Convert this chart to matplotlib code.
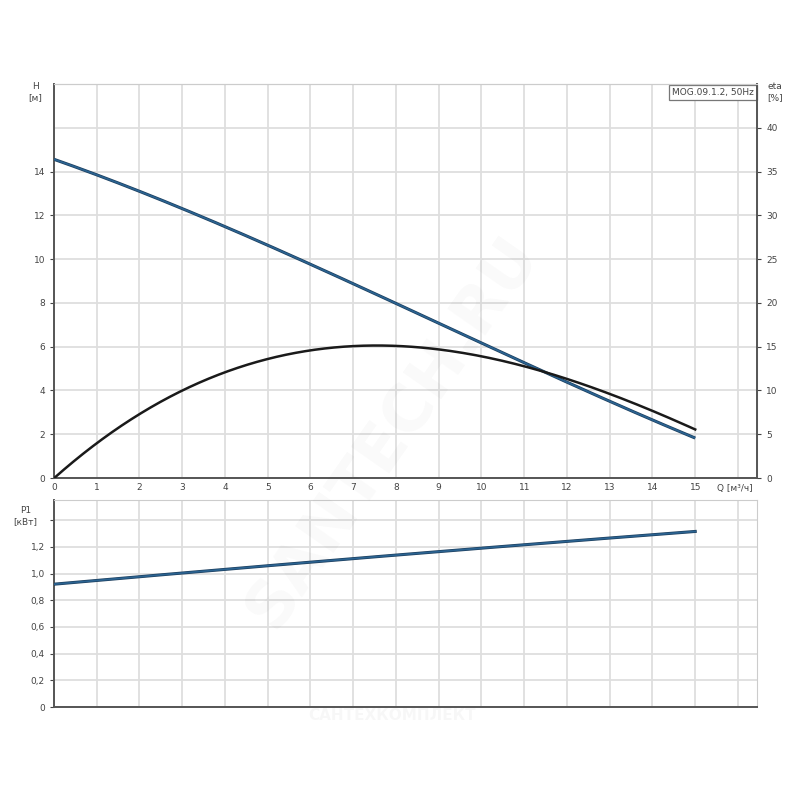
import matplotlib.pyplot as plt
import numpy as np

# Q, m3/h
q = [0, 1, 2, 3, 4, 5, 6, 7, 8, 9, 10, 11, 12, 13, 14, 15]
# head H, m
head = [14.48, 13.93, 13.13, 12.32, 11.48, 10.6, 9.77, 8.88, 7.97, 7.05, 6.12, 5.22, 4.42, 3.6, 2.7, 1.74]
# efficiency, %
eta = [0, 4.0, 7.2, 10.0, 12.0, 13.6, 14.6, 15.3, 15.25, 14.5, 13.6, 12.6, 11.6, 9.75, 7.6, 5.5]
# P1, kW
p1 = [0.927, 0.95, 0.975, 1.0, 1.025, 1.052, 1.08, 1.11, 1.145, 1.17, 1.195, 1.218, 1.24, 1.265, 1.29, 1.31]

h_ticks = [0, 2, 4, 6, 8, 10, 12, 14]
eta_ticks = [0, 5, 10, 15, 20, 25, 30, 35, 40]
p_ticks = [0, 0.2, 0.4, 0.6, 0.8, 1.0, 1.2, 1.4]
p_labels = ["0", "0,2", "0,4", "0,6", "0,8", "1,0", "1,2", ""]

blue = "#2b6391"
grid_c = "#dedede"
txt_c = "#444444"
spine_c = "#555555"

fig = plt.figure(figsize=(8, 8), dpi=100)
ax = fig.add_axes([0.0675, 0.4025, 0.879, 0.4925])
ax2 = ax.twinx()
axp = fig.add_axes([0.0675, 0.116, 0.879, 0.259])


def smooth(x, y, deg, n=200):
    # smooth curve through the points
    xs = np.linspace(x[0], x[-1], n)
    return xs, np.polyval(np.polyfit(x, y, deg), xs)


for a in (ax, axp):
    a.set_xlim(0, 16.45)
    a.set_xticks(range(0, 17))
    a.grid(True, color=grid_c, linewidth=1.3)
    a.set_axisbelow(True)
    a.tick_params(axis="both", labelsize=6.5, colors=txt_c, length=3, width=0.8)
    a.spines["left"].set_color(spine_c)
    a.spines["bottom"].set_color(spine_c)
    a.spines["left"].set_linewidth(1.4)
    a.spines["bottom"].set_linewidth(1.4)
    a.spines["top"].set_color("#cccccc")
    a.spines["right"].set_color("#cccccc")

ax.set_ylim(0, 18)
ax.set_yticks(h_ticks)
ax.set_yticks([16], minor=True)
ax.tick_params(axis="y", which="minor", length=0)
ax.grid(True, which="minor", axis="y", color=grid_c, linewidth=1.3)
ax.set_xticklabels([str(v) if v <= 15 else "" for v in range(0, 17)])
ax.tick_params(axis="x", length=0)

ax2.set_ylim(0, 45)
ax2.set_yticks(eta_ticks)
ax2.tick_params(axis="y", labelsize=6.5, colors=txt_c, length=3, width=0.8)
ax2.spines["right"].set_color(spine_c)
ax2.spines["right"].set_linewidth(1.4)
ax2.spines["top"].set_color("#cccccc")
ax2.spines["left"].set_visible(False)
ax2.spines["bottom"].set_visible(False)

xs, hs = smooth(q, head, 3)
ax.plot(xs, hs, color="#1d3f5e", linewidth=2.2, solid_capstyle="butt", zorder=3)
ax.plot(xs, hs, color=blue, linewidth=1.2, solid_capstyle="butt", zorder=3)
xs, es = smooth(q, eta, 4)
ax2.plot(xs, es, color="#1a1a1a", linewidth=1.8, zorder=3)

axp.set_ylim(0, 1.55)
axp.set_yticks(p_ticks)
axp.set_yticklabels(p_labels)
axp.set_xticklabels([])
axp.tick_params(axis="x", length=0)
xs, ps = smooth(q, p1, 2)
axp.plot(xs, ps, color="#1d3f5e", linewidth=2.2, zorder=3)
axp.plot(xs, ps, color=blue, linewidth=1.2, zorder=3)

fig.text(0.044, 0.885, "H\n[м]", fontsize=6.5, color=txt_c, ha="center", va="center", linespacing=1.2)
fig.text(0.969, 0.885, "eta\n[%]", fontsize=6.5, color=txt_c, ha="center", va="center", linespacing=1.2)
fig.text(0.032, 0.355, "P1\n[кВт]", fontsize=6.5, color=txt_c, ha="center", va="center", linespacing=1.2)
fig.text(0.918, 0.389, "Q [м³/ч]", fontsize=6.5, color=txt_c, ha="center", va="center")

ax.text(0.995, 0.99, "MOG.09.1.2, 50Hz", transform=ax.transAxes, fontsize=6.5, color=txt_c,
        ha="right", va="top", zorder=5,
        bbox=dict(boxstyle="square,pad=0.35", facecolor="white", edgecolor="#777777", linewidth=0.9))

# faint watermarks
fig.text(0.49, 0.46, "SANTECH.RU", fontsize=46, fontweight="bold", color="#000000", alpha=0.025,
         rotation=55, ha="center", va="center")
fig.text(0.49, 0.105, "САНТЕХКОМПЛЕКТ", fontsize=11, fontweight="bold", color="#000000", alpha=0.03,
         ha="center", va="center")

fig.savefig("out.png", dpi=100)
